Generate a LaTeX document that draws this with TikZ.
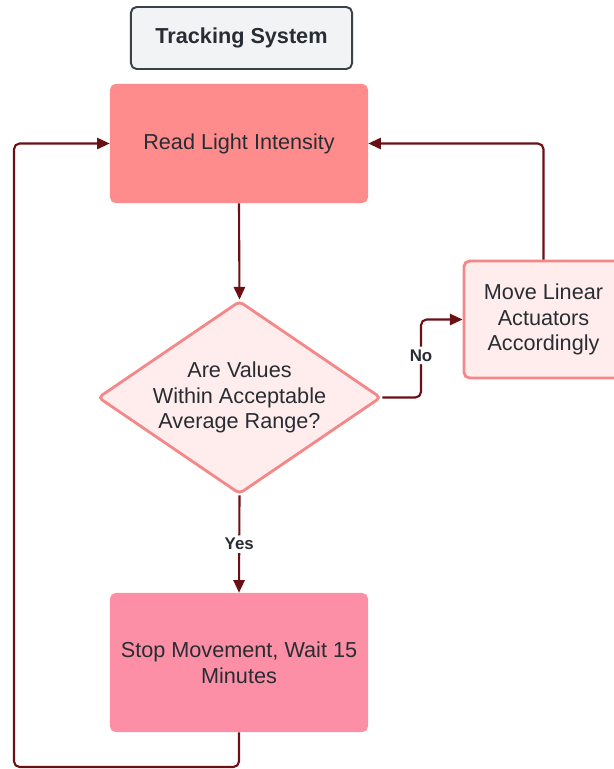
\documentclass[tikz,border=0pt]{standalone}
\usepackage{fontspec}
\setmainfont{Liberation Sans}
\usetikzlibrary{arrows.meta,shapes.geometric}
\definecolor{FlowClr}{RGB}{106,15,20}
\definecolor{TextClr}{RGB}{40,45,51}
\definecolor{ReadClr}{RGB}{255,140,140}
\definecolor{StopClr}{RGB}{252,142,165}
\definecolor{PaleClr}{RGB}{255,237,237}
\definecolor{EdgeClr}{RGB}{244,136,136}
\definecolor{TitleClr}{RGB}{241,243,245}
\definecolor{TitleEdge}{RGB}{58,65,74}

\begin{document}
\begin{tikzpicture}[x=0.025cm,y=-0.025cm,
  every node/.style={text=TextClr,font=\fontsize{15.4}{18.4}\selectfont,align=center},
  box/.style={rectangle,rounded corners=4pt,minimum width=6.45cm,minimum height=2.975cm,inner sep=2pt},
  decision/.style={diamond,aspect=1.466,fill=PaleClr,draw=EdgeClr,line width=2pt,rounded corners=3pt,
    minimum width=7.075cm,minimum height=4.825cm,inner sep=0pt},
  flow/.style={draw=FlowClr,line width=1.5pt,rounded corners=4pt,-{Triangle[length=9pt,width=8pt]}},
  lbl/.style={fill=white,inner sep=2pt,font=\bfseries\fontsize{12}{14}\selectfont}]

\useasboundingbox (0,0) rectangle (613,769);

\node[box,fill=TitleClr,draw=TitleEdge,line width=1.4pt,minimum width=5.525cm,minimum height=1.55cm,
  font=\bfseries\fontsize{15.4}{18.4}\selectfont] (title) at (241.5,38) {Tracking System};
\node[box,fill=ReadClr] (read) at (239,143.5) {Read Light Intensity};
\node[decision] (check) at (239.5,397.5) {Are Values\\Within Acceptable\\Average Range?};
\node[box,fill=PaleClr,draw=EdgeClr,line width=2pt,minimum width=3.975cm,minimum height=2.925cm]
  (move) at (543.5,319.5) {Move Linear\\Actuators\\Accordingly};
\node[box,fill=StopClr,minimum height=3.475cm] (stop) at (239,662.5) {Stop Movement, Wait 15\\Minutes};

\coordinate (nobend) at (421,397.5);
\coordinate (loopR) at (239,767);
\coordinate (loopL) at (14,767);

\draw[flow] (read.south) -- (check.north);
\draw[flow] (check.east) -- (nobend) |- node[lbl,pos=0.27]{No} (move.west);
\draw[flow] (check.south) -- node[lbl]{Yes} (stop.north);
\draw[flow] (move.north) |- (read.east);
\draw[flow] (stop.south) -- (loopR) -- (loopL) |- (read.west);

\end{tikzpicture}
\end{document}
